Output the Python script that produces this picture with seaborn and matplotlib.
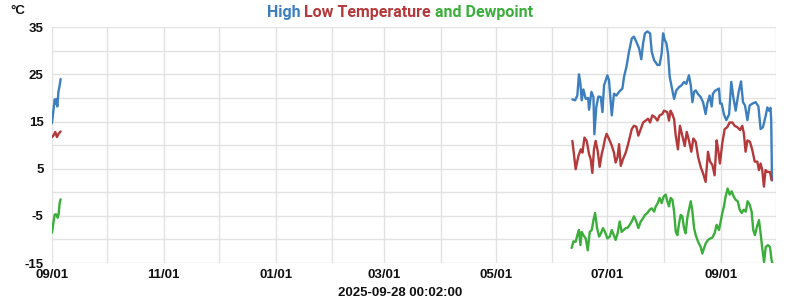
import numpy as np
import pandas as pd
import matplotlib
matplotlib.use("Agg")
import matplotlib.pyplot as plt
import matplotlib.dates as mdates
import seaborn as sns

# ---------------- data ----------------
EARLY_START = "2024-09-01"
LATE_START = "2025-06-01"

HIGH_EARLY_DAY = [0.0, 0.9, 1.5, 2.0, 2.4, 2.9, 3.5, 4.2, 4.7]
HIGH_EARLY = [14.7, 17.8, 19.7, 18.8, 19.7, 18.2, 21.3, 22.7, 24.0]
LOW_EARLY_DAY = [0.0, 0.9, 1.8, 2.7, 3.6, 4.7]
LOW_EARLY = [11.7, 12.1, 12.8, 11.7, 12.4, 12.9]
DEW_EARLY_DAY = [0.0, 0.9, 1.5, 2.4, 3.1, 3.6, 4.2, 4.7]
DEW_EARLY = [-8.6, -6.1, -4.7, -4.7, -5.4, -4.7, -2.2, -1.5]

HIGH_LATE_DAY = [10.9, 12.4, 13.6, 14.5, 15.3, 16.0, 16.9, 18.2, 19.5, 20.0,
                 21.3, 22.4, 22.9, 24.0, 25.1, 26.4, 27.3, 28.2, 30.0, 30.9,
                 32.4, 33.6, 34.9, 36.4, 38.2, 39.1, 40.4, 41.8, 43.3, 44.5,
                 45.8, 47.3, 48.5, 49.5, 50.5, 51.8, 53.3, 54.2, 55.5, 57.3,
                 58.5, 59.6, 60.4, 61.3, 62.2, 63.1, 64.0, 65.1, 66.4, 67.6,
                 69.1, 70.5, 71.8, 73.1, 74.5, 75.5, 76.4, 77.3, 78.2, 79.5,
                 80.9, 82.2, 83.6, 84.5, 85.8, 86.9, 87.6, 88.7, 90.0, 90.9,
                 91.5, 92.4, 93.6, 94.9, 96.4, 97.6, 98.7, 100.0, 101.5, 102.9,
                 104.0, 105.1, 106.4, 107.6, 109.1, 110.9, 112.4, 113.6, 114.9, 116.4,
                 117.3, 118.2, 119.0, 119.4, 119.8]
HIGH_LATE = [19.7, 19.5, 20.5, 25.0, 23.0, 19.5, 21.8, 19.8, 20.0, 17.5,
             21.3, 20.2, 12.3, 18.2, 20.3, 20.2, 17.0, 22.7, 24.8, 23.7,
             16.3, 20.9, 20.5, 21.3, 22.0, 24.5, 26.6, 29.8, 32.6, 33.0,
             31.9, 30.5, 28.2, 31.6, 33.7, 34.1, 33.7, 29.8, 28.0, 27.0,
             27.0, 29.4, 33.7, 32.3, 31.6, 29.4, 24.5, 22.3, 19.8, 21.6,
             22.3, 22.7, 23.4, 23.0, 24.8, 22.7, 19.1, 21.3, 21.6, 20.8,
             20.2, 19.1, 16.6, 18.8, 20.5, 18.2, 20.9, 21.5, 21.8, 22.0,
             18.8, 18.8, 16.5, 15.3, 16.5, 23.4, 20.2, 17.3, 21.0, 23.5,
             19.1, 18.4, 15.3, 18.4, 18.8, 19.1, 18.2, 13.4, 13.8, 16.3,
             18.0, 17.3, 17.9, 15.2, 2.5]

LOW_LATE_DAY = [10.9, 12.7, 14.2, 15.5, 16.4, 17.5, 18.7, 20.0, 20.9, 21.8,
                22.7, 23.6, 24.7, 25.8, 26.9, 27.8, 28.7, 29.6, 30.9, 32.4,
                33.6, 34.5, 35.5, 36.4, 37.3, 38.5, 40.0, 41.1, 42.2, 43.3,
                44.5, 45.8, 46.9, 48.2, 49.5, 50.9, 52.2, 53.3, 54.5, 56.0,
                57.3, 58.5, 60.0, 60.9, 62.7, 63.6, 64.5, 65.4, 66.4, 67.3,
                68.5, 69.6, 70.9, 72.2, 73.3, 74.5, 75.8, 76.9, 78.2, 79.5,
                80.9, 82.3, 83.6, 84.9, 86.0, 87.3, 88.5, 89.6, 90.5, 91.4,
                92.7, 94.0, 95.4, 96.7, 98.2, 99.4, 100.9, 102.4, 103.6, 104.5,
                105.4, 106.4, 107.8, 109.1, 110.4, 111.8, 112.7, 113.6, 114.5, 115.4,
                116.3, 117.3, 118.7, 119.6]
LOW_LATE = [10.9, 4.9, 7.7, 9.1, 8.4, 11.6, 10.9, 8.1, 7.0, 4.1,
            9.1, 10.9, 8.8, 5.4, 8.1, 9.5, 11.3, 12.4, 11.3, 9.9,
            8.4, 6.3, 7.4, 10.2, 5.6, 7.0, 8.4, 9.9, 11.6, 13.4,
            14.1, 13.9, 12.0, 13.4, 14.8, 15.2, 15.6, 14.8, 16.3, 15.9,
            15.2, 16.3, 16.6, 17.3, 17.0, 15.2, 17.3, 16.6, 15.5, 12.0,
            9.1, 14.1, 12.0, 9.8, 12.8, 11.0, 8.6, 11.4, 10.7, 7.5,
            5.4, 3.9, 2.2, 8.6, 6.5, 5.8, 3.6, 11.0, 8.9, 6.1,
            10.4, 13.4, 13.8, 14.8, 14.8, 14.1, 13.8, 13.2, 14.1, 12.4,
            8.6, 11.0, 10.7, 8.9, 6.5, 6.5, 4.7, 6.1, 4.7, 1.2,
            4.7, 4.3, 4.3, 2.6]

DEW_LATE_DAY = [10.5, 11.5, 12.7, 13.6, 14.5, 15.3, 16.0, 16.9, 18.2, 19.3,
                20.4, 21.5, 22.4, 23.3, 24.4, 25.5, 26.5, 27.6, 28.7, 30.0,
                31.3, 32.4, 33.5, 34.5, 35.6, 36.7, 37.8, 38.9, 40.0, 41.1,
                42.2, 43.3, 44.5, 45.8, 46.9, 48.2, 49.5, 50.5, 51.8, 53.1,
                54.2, 55.5, 56.4, 57.5, 58.5, 59.6, 60.7, 61.8, 62.7, 63.6,
                64.5, 65.5, 66.4, 67.3, 68.2, 69.1, 70.0, 70.9, 71.8, 72.7,
                73.6, 74.5, 75.5, 76.4, 77.3, 78.2, 79.5, 80.9, 81.8, 82.7,
                83.6, 84.9, 86.2, 87.3, 88.5, 89.6, 90.9, 91.8, 92.7, 93.6,
                94.5, 95.6, 96.7, 97.8, 98.9, 100.0, 101.1, 102.2, 103.3, 104.4,
                105.5, 106.5, 107.6, 108.7, 109.6, 110.5, 111.6, 112.7, 113.5, 114.5,
                115.5, 116.4, 117.6, 118.7, 119.6, 120.0]
DEW_LATE = [-11.8, -10.4, -10.5, -9.1, -8.0, -11.2, -8.4, -9.1, -9.8, -12.3,
            -8.4, -8.0, -5.9, -4.4, -7.6, -9.4, -8.7, -7.6, -8.4, -9.8,
            -9.4, -8.0, -9.1, -10.1, -8.7, -6.2, -8.4, -8.0, -7.6, -7.5,
            -6.9, -6.2, -5.1, -6.2, -7.6, -6.2, -5.5, -4.8, -4.4, -3.7,
            -3.4, -4.1, -3.0, -2.3, -1.2, -2.3, -0.9, -0.5, -1.9, -3.0,
            -1.2, -1.6, -4.1, -8.4, -9.1, -6.6, -4.8, -5.1, -7.6, -8.7,
            -5.5, -3.7, -1.9, -4.1, -7.6, -9.1, -10.5, -11.6, -13.0, -11.9,
            -10.9, -10.1, -9.8, -9.6, -8.7, -6.9, -8.0, -6.2, -4.4, -3.0,
            -0.9, 0.8, -0.5, 0.2, -0.9, -1.6, -1.9, -3.7, -4.4, -3.7,
            -4.1, -1.9, -2.6, -4.1, -8.0, -9.1, -7.3, -5.9, -8.4, -11.9,
            -14.8, -11.6, -11.2, -11.6, -14.4, -15.0]

SERIES = ["High", "Low", "Dewpoint"]
COLORS = {"High": "#3d7fbe", "Low": "#b3393b", "Dewpoint": "#3bae3b"}
Y_TICKS = [-15, -5, 5, 15, 25, 35]
X_START, X_END = "2024-09-01", "2025-10-01"
TIMESTAMP = "2025-09-28 00:02:00"


def build(name, start, days, vals, seg):
    t = pd.Timestamp(start) + pd.to_timedelta(np.asarray(days), unit="D")
    return pd.DataFrame({"date": t, "value": vals, "series": name, "segment": seg})


df = pd.concat([
    build("High", EARLY_START, HIGH_EARLY_DAY, HIGH_EARLY, "a"),
    build("Low", EARLY_START, LOW_EARLY_DAY, LOW_EARLY, "a"),
    build("Dewpoint", EARLY_START, DEW_EARLY_DAY, DEW_EARLY, "a"),
    build("High", LATE_START, HIGH_LATE_DAY, HIGH_LATE, "b"),
    build("Low", LATE_START, LOW_LATE_DAY, LOW_LATE, "b"),
    build("Dewpoint", LATE_START, DEW_LATE_DAY, DEW_LATE, "b"),
], ignore_index=True)

# ---------------- figure ----------------
sns.set_style("white")
plt.rcParams["font.family"] = ["Liberation Sans", "DejaVu Sans"]
plt.rcParams["axes.unicode_minus"] = False

fig = plt.figure(figsize=(8, 3), dpi=100)
ax = fig.add_axes([0.065, 0.1233, 0.905, 0.786])

sns.lineplot(data=df, x="date", y="value", hue="series", units="segment",
             estimator=None, palette=COLORS, hue_order=SERIES,
             linewidth=1.7, legend=False, ax=ax)

ax.set_xlim(pd.Timestamp(X_START), pd.Timestamp(X_END))
ax.set_ylim(min(Y_TICKS), max(Y_TICKS))
ax.set_yticks(Y_TICKS)
ax.set_yticks([v + 5 for v in Y_TICKS[:-1]], minor=True)
ax.xaxis.set_major_locator(mdates.MonthLocator(bymonth=[1, 3, 5, 7, 9, 11]))
ax.xaxis.set_minor_locator(mdates.MonthLocator())
ax.xaxis.set_major_formatter(mdates.DateFormatter("%m/%d"))

ax.grid(True, which="both", color="#e2e2e2", linewidth=1.0)
ax.set_axisbelow(True)
for s in ax.spines.values():
    s.set_visible(False)
ax.tick_params(which="both", length=0)
ax.tick_params(axis="y", pad=6, labelsize=9.5)
ax.tick_params(axis="x", pad=4, labelsize=9.5)
for lab in ax.get_xticklabels() + ax.get_yticklabels():
    lab.set_fontweight("bold")
    lab.set_color("#111111")
ax.set_xlabel("")
ax.set_ylabel("")

fig.text(0.013, 0.965, "°C", fontsize=9.5, fontweight="bold", color="#111111",
         ha="left", va="center")
fig.text(0.5, 0.022, TIMESTAMP, fontsize=9.5, fontweight="bold", color="#111111",
         ha="center", va="center")

# multi-coloured title
parts = [("High ", COLORS["High"]), ("Low Temperature ", COLORS["Low"]),
         ("and Dewpoint", COLORS["Dewpoint"])]
renderer = fig.canvas.get_renderer()
texts = [fig.text(0, 0.958, p, color=c, fontsize=11.5, fontweight="bold",
                  family=["Roboto", "DejaVu Sans"], ha="left", va="center")
         for p, c in parts]
widths = [t.get_window_extent(renderer).width for t in texts]
total = sum(widths)
x = (fig.bbox.width - total) / 2
for t, w in zip(texts, widths):
    t.set_x(x / fig.bbox.width)
    x += w

fig.savefig("out.png", dpi=100)
